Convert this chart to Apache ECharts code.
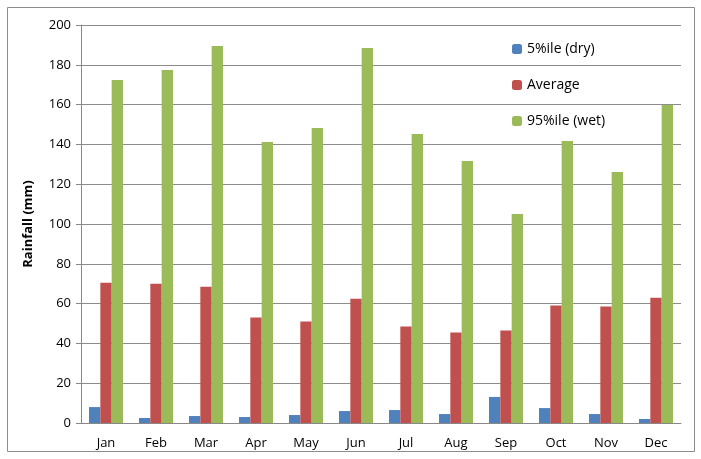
<html>
  <head>
    <meta http-equiv="Content-Type" content="text/html; charset=utf-8" />
    <script src="https://cdn.jsdelivr.net/npm/echarts@6/dist/echarts.min.js"></script>
    <style>body{margin:0;background:#fff;}</style>
  </head>
  <body>
    <div id="main" style="width: 701px;height:459px;"></div>
    <script type="text/javascript">
var months = ['Jan', 'Feb', 'Mar', 'Apr', 'May', 'Jun', 'Jul', 'Aug', 'Sep', 'Oct', 'Nov', 'Dec'];
var dry5 = [8.0, 2.5, 3.5, 3.0, 4.0, 6.0, 6.5, 4.5, 13.1, 7.5, 4.5, 2.0];
var average = [70.5, 70, 68.5, 53, 51, 62.5, 48.5, 45.5, 46.5, 59, 58.5, 63];
var wet95 = [172.4, 177.4, 189.4, 141.2, 148.2, 188.4, 145.2, 131.7, 105, 141.7, 126.1, 159.8];
var yTicks = [0, 20, 40, 60, 80, 100, 120, 140, 160, 180, 200];

var myChart = echarts.init(document.getElementById('main'));
var font = 'Open Sans';

var option = {
  animation: false,
  backgroundColor: '#fff',
  textStyle: { fontFamily: font },
  graphic: [{
    type: 'rect',
    shape: { x: 7.5, y: 7.5, width: 687, height: 444 },
    style: { fill: 'none', stroke: '#8c8c8c', lineWidth: 1 },
    silent: true
  }],
  legend: {
    orient: 'vertical',
    left: 507,
    top: 37,
    itemWidth: 10,
    itemHeight: 10,
    itemGap: 22,
    textStyle: { fontSize: 14, color: '#000', fontFamily: font },
    data: ['5%ile (dry)', 'Average', '95%ile (wet)']
  },
  grid: { left: 81, right: 20, top: 25, bottom: 36 },
  xAxis: {
    type: 'category',
    data: months,
    axisLine: { lineStyle: { color: '#888' } },
    axisTick: { length: 5, lineStyle: { color: '#888' } },
    axisLabel: { fontSize: 13, color: '#000', margin: 14 }
  },
  yAxis: {
    type: 'value',
    min: yTicks[0],
    max: yTicks[yTicks.length - 1],
    interval: 20,
    name: 'Rainfall (mm)',
    nameLocation: 'middle',
    nameGap: 46,
    nameTextStyle: { fontSize: 13, fontWeight: 'bold', color: '#000' },
    axisLine: { show: true, lineStyle: { color: '#888' } },
    axisTick: { show: true, length: 5, lineStyle: { color: '#888' } },
    axisLabel: { fontSize: 13, color: '#000', margin: 10 },
    splitLine: { lineStyle: { color: '#8c8c8c' } }
  },
  series: [
    { name: '5%ile (dry)', type: 'bar', data: dry5, barGap: '0%', barCategoryGap: '32%', itemStyle: { color: '#4f81bd' } },
    { name: 'Average', type: 'bar', data: average, itemStyle: { color: '#c0504d' } },
    { name: '95%ile (wet)', type: 'bar', data: wet95, itemStyle: { color: '#9bbb59' } }
  ]
};

myChart.setOption(option);
    </script>
  </body>
</html>
